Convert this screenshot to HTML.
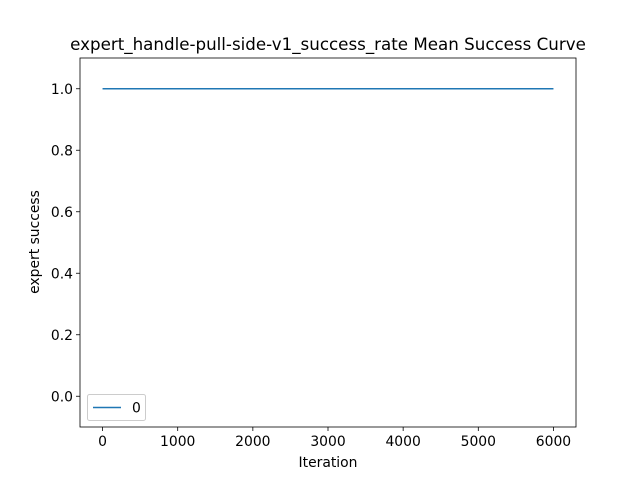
<!DOCTYPE html>
<html><head><meta charset="utf-8"><style>
body{margin:0;background:#fff;}
svg{display:block;font-family:"DejaVu Sans","Liberation Sans",sans-serif;}
</style></head><body>
<svg id="chart" width="640" height="480">
<rect width="640" height="480" fill="#fff"/>
<text x="328" y="50" font-size="16.7" text-anchor="middle">expert_handle-pull-side-v1_success_rate Mean Success Curve</text>
<g id="xticks"></g>
<g id="yticks"></g>
<path id="line" fill="none" stroke="#1f77b4" stroke-width="1.5"/>
<rect x="80" y="58" width="496" height="369" fill="none" stroke="#000" stroke-width="0.8"/>
<text x="328" y="467" font-size="13.9" text-anchor="middle">Iteration</text>
<text x="39" y="242" font-size="13.9" text-anchor="middle" transform="rotate(-90 39 242)">expert success</text>
<g>
<rect x="87.5" y="394.5" width="58" height="26" rx="2" fill="#fff" stroke="#ccc" stroke-width="1"/>
<line x1="93" y1="407.5" x2="121" y2="407.5" stroke="#1f77b4" stroke-width="1.5"/>
<text x="132" y="412.5" font-size="13.9">0</text>
</g>
</svg>
<script>
const iterations=[0,500,1000,1500,2000,2500,3000,3500,4000,4500,5000,5500,6000];
const successValues=[1,1,1,1,1,1,1,1,1,1,1,1,1];
const xTickValues=[0,1000,2000,3000,4000,5000,6000];
const yTickValues=[0.0,0.2,0.4,0.6,0.8,1.0];
const xMin=-300,xMax=6300,yMin=-0.1,yMax=1.1;
const L=80,R=576,T=58,B=427;
const sx=v=>L+(v-xMin)/(xMax-xMin)*(R-L);
const sy=v=>B-(v-yMin)/(yMax-yMin)*(B-T);
const NS="http://www.w3.org/2000/svg";
const xg=document.getElementById('xticks'),yg=document.getElementById('yticks');
xTickValues.forEach(v=>{
 const l=document.createElementNS(NS,'line');
 l.setAttribute('x1',sx(v));l.setAttribute('x2',sx(v));l.setAttribute('y1',B);l.setAttribute('y2',B+4);
 l.setAttribute('stroke','#000');l.setAttribute('stroke-width','0.8');
 
 
 xg.appendChild(l);
 const t=document.createElementNS(NS,'text');
 t.setAttribute('x',sx(v));t.setAttribute('y',B+19);t.setAttribute('font-size','13.9');t.setAttribute('text-anchor','middle');
 t.textContent=String(v);
 
 
 xg.appendChild(t);
});
yTickValues.forEach(v=>{
 const l=document.createElementNS(NS,'line');
 l.setAttribute('x1',L-4);l.setAttribute('x2',L);l.setAttribute('y1',sy(v));l.setAttribute('y2',sy(v));
 l.setAttribute('stroke','#000');l.setAttribute('stroke-width','0.8');
 
 
 yg.appendChild(l);
 const t=document.createElementNS(NS,'text');
 t.setAttribute('x',L-7);t.setAttribute('y',sy(v)+5);t.setAttribute('font-size','13.9');t.setAttribute('text-anchor','end');
 t.textContent=v.toFixed(1);
 
 
 yg.appendChild(t);
});
document.getElementById('line').setAttribute('d',iterations.map((x,i)=>(i?'L':'M')+sx(x)+' '+sy(successValues[i])).join(' '));
</script>
</body></html>
